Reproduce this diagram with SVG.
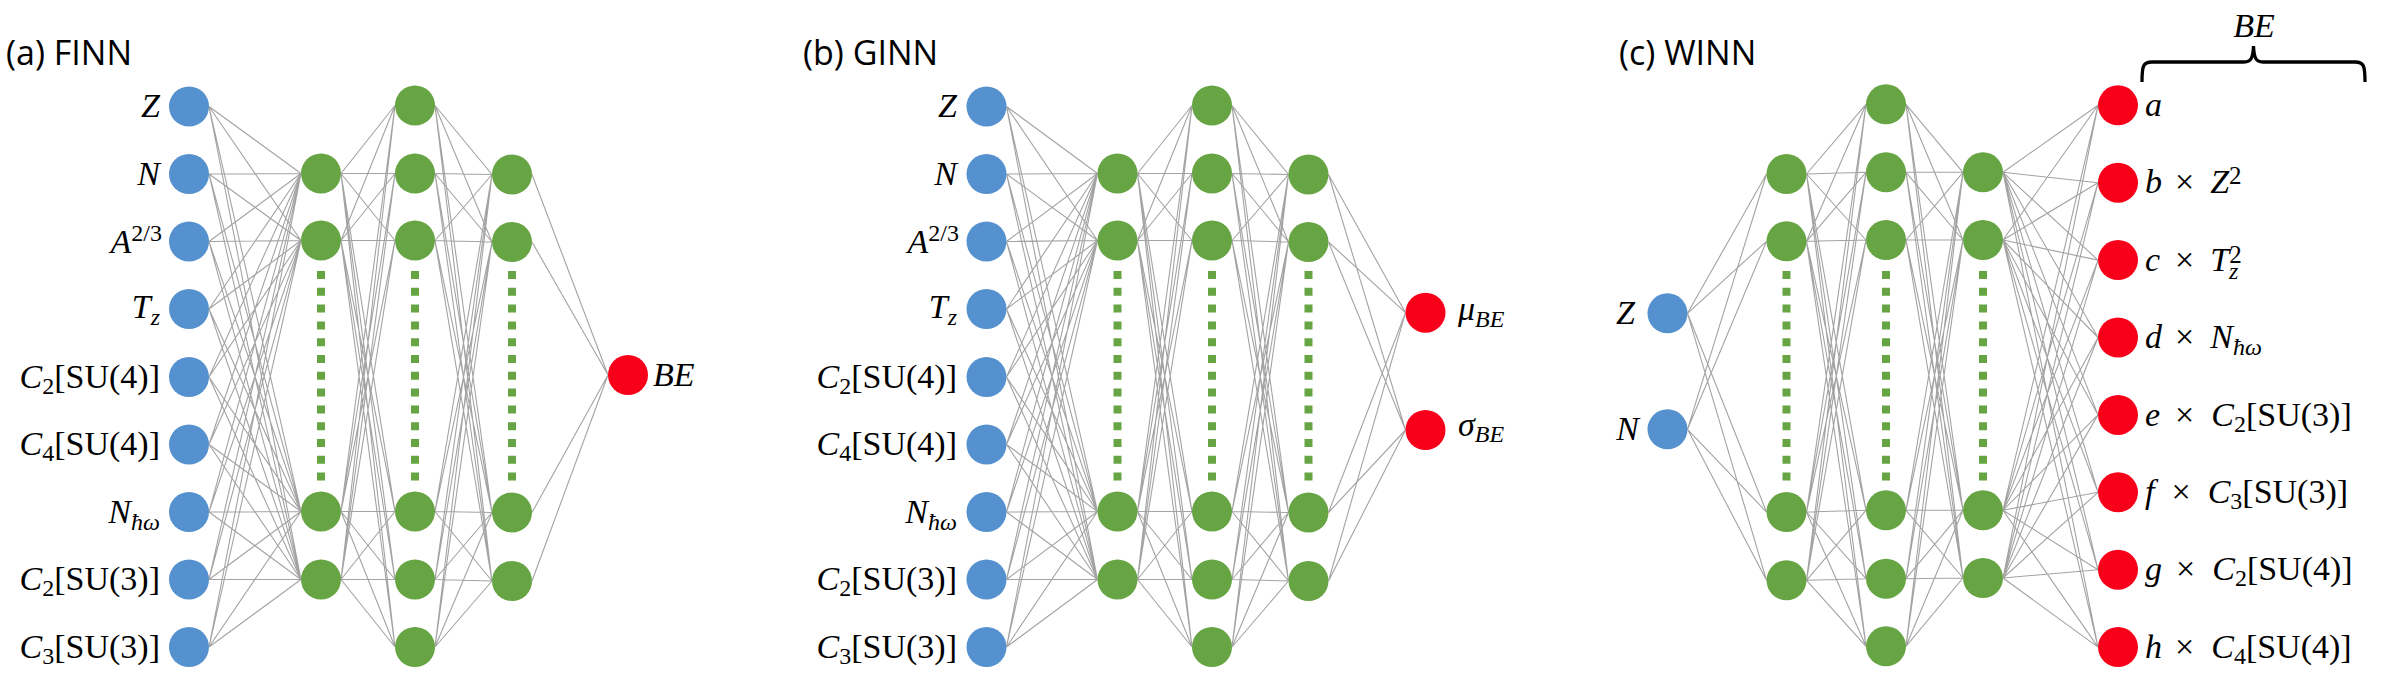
<svg xmlns="http://www.w3.org/2000/svg" width="2386" height="677" viewBox="0 0 2386 677">
<style>
.bg{fill:#fff}
.conn path{stroke:#A3A3A3;stroke-width:1.1;fill:none}
.in{fill:#5591CE}
.hid{fill:#67A443}
.out{fill:#F9001A}
.dots line{stroke:#67A443;stroke-width:8;stroke-dasharray:8 8.8}
.lbl{font-family:"Liberation Serif","DejaVu Serif",serif;font-size:34px;fill:#000}
.i{font-style:italic}
.s{font-size:24px}
.title{font-family:"Open Sans","Liberation Sans",sans-serif;font-size:34px;fill:#000}
.brace{stroke:#000;stroke-width:3.3;fill:none}
</style>
<rect class="bg" x="0" y="0" width="2386" height="677"/>

<!-- titles -->
<text class="title" x="6" y="65">(a) FINN</text>
<text class="title" x="803" y="65">(b) GINN</text>
<text class="title" x="1619" y="65">(c) WINN</text>

<!-- connectors -->
<g id="connectors" class="conn">
<!-- panel a: inputs -> h1 -->
<path d="M209 106.5L301 173.5M209 106.5L301 240.5M209 106.5L301 511.5M209 106.5L301 579.5
M209 174L301 173.5M209 174L301 240.5M209 174L301 511.5M209 174L301 579.5
M209 241.5L301 173.5M209 241.5L301 240.5M209 241.5L301 511.5M209 241.5L301 579.5
M209 309L301 173.5M209 309L301 240.5M209 309L301 511.5M209 309L301 579.5
M209 377L301 173.5M209 377L301 240.5M209 377L301 511.5M209 377L301 579.5
M209 444.5L301 173.5M209 444.5L301 240.5M209 444.5L301 511.5M209 444.5L301 579.5
M209 512L301 173.5M209 512L301 240.5M209 512L301 511.5M209 512L301 579.5
M209 579.5L301 173.5M209 579.5L301 240.5M209 579.5L301 511.5M209 579.5L301 579.5
M209 647L301 173.5M209 647L301 240.5M209 647L301 511.5M209 647L301 579.5"/>
<!-- panel a: h1 -> h2 -->
<path d="M341 173.5L395 105.5M341 173.5L395 173.5M341 173.5L395 240.5M341 173.5L395 511.5M341 173.5L395 579.5M341 173.5L395 647
M341 240.5L395 105.5M341 240.5L395 173.5M341 240.5L395 240.5M341 240.5L395 511.5M341 240.5L395 579.5M341 240.5L395 647
M341 511.5L395 105.5M341 511.5L395 173.5M341 511.5L395 240.5M341 511.5L395 511.5M341 511.5L395 579.5M341 511.5L395 647
M341 579.5L395 105.5M341 579.5L395 173.5M341 579.5L395 240.5M341 579.5L395 511.5M341 579.5L395 579.5M341 579.5L395 647"/>
<!-- panel a: h2 -> h3 -->
<path d="M435 105.5L492 174.5M435 105.5L492 242M435 105.5L492 512.5M435 105.5L492 581
M435 173.5L492 174.5M435 173.5L492 242M435 173.5L492 512.5M435 173.5L492 581
M435 240.5L492 174.5M435 240.5L492 242M435 240.5L492 512.5M435 240.5L492 581
M435 511.5L492 174.5M435 511.5L492 242M435 511.5L492 512.5M435 511.5L492 581
M435 579.5L492 174.5M435 579.5L492 242M435 579.5L492 512.5M435 579.5L492 581
M435 647L492 174.5M435 647L492 242M435 647L492 512.5M435 647L492 581"/>
<!-- panel a: h3 -> out -->
<path d="M532 174.5L608 375M532 242L608 375M532 512.5L608 375M532 581L608 375"/>

<!-- panel b: inputs -> h1 -->
<path d="M1006.5 106.5L1097.5 173.5M1006.5 106.5L1097.5 240.5M1006.5 106.5L1097.5 511.5M1006.5 106.5L1097.5 579.5
M1006.5 174L1097.5 173.5M1006.5 174L1097.5 240.5M1006.5 174L1097.5 511.5M1006.5 174L1097.5 579.5
M1006.5 241.5L1097.5 173.5M1006.5 241.5L1097.5 240.5M1006.5 241.5L1097.5 511.5M1006.5 241.5L1097.5 579.5
M1006.5 309L1097.5 173.5M1006.5 309L1097.5 240.5M1006.5 309L1097.5 511.5M1006.5 309L1097.5 579.5
M1006.5 377L1097.5 173.5M1006.5 377L1097.5 240.5M1006.5 377L1097.5 511.5M1006.5 377L1097.5 579.5
M1006.5 444.5L1097.5 173.5M1006.5 444.5L1097.5 240.5M1006.5 444.5L1097.5 511.5M1006.5 444.5L1097.5 579.5
M1006.5 512L1097.5 173.5M1006.5 512L1097.5 240.5M1006.5 512L1097.5 511.5M1006.5 512L1097.5 579.5
M1006.5 579.5L1097.5 173.5M1006.5 579.5L1097.5 240.5M1006.5 579.5L1097.5 511.5M1006.5 579.5L1097.5 579.5
M1006.5 647L1097.5 173.5M1006.5 647L1097.5 240.5M1006.5 647L1097.5 511.5M1006.5 647L1097.5 579.5"/>
<!-- panel b: h1 -> h2 -->
<path d="M1137.5 173.5L1192 105.5M1137.5 173.5L1192 173.5M1137.5 173.5L1192 240.5M1137.5 173.5L1192 511.5M1137.5 173.5L1192 579.5M1137.5 173.5L1192 647
M1137.5 240.5L1192 105.5M1137.5 240.5L1192 173.5M1137.5 240.5L1192 240.5M1137.5 240.5L1192 511.5M1137.5 240.5L1192 579.5M1137.5 240.5L1192 647
M1137.5 511.5L1192 105.5M1137.5 511.5L1192 173.5M1137.5 511.5L1192 240.5M1137.5 511.5L1192 511.5M1137.5 511.5L1192 579.5M1137.5 511.5L1192 647
M1137.5 579.5L1192 105.5M1137.5 579.5L1192 173.5M1137.5 579.5L1192 240.5M1137.5 579.5L1192 511.5M1137.5 579.5L1192 579.5M1137.5 579.5L1192 647"/>
<!-- panel b: h2 -> h3 -->
<path d="M1232 105.5L1288.5 174.5M1232 105.5L1288.5 242M1232 105.5L1288.5 512.5M1232 105.5L1288.5 581
M1232 173.5L1288.5 174.5M1232 173.5L1288.5 242M1232 173.5L1288.5 512.5M1232 173.5L1288.5 581
M1232 240.5L1288.5 174.5M1232 240.5L1288.5 242M1232 240.5L1288.5 512.5M1232 240.5L1288.5 581
M1232 511.5L1288.5 174.5M1232 511.5L1288.5 242M1232 511.5L1288.5 512.5M1232 511.5L1288.5 581
M1232 579.5L1288.5 174.5M1232 579.5L1288.5 242M1232 579.5L1288.5 512.5M1232 579.5L1288.5 581
M1232 647L1288.5 174.5M1232 647L1288.5 242M1232 647L1288.5 512.5M1232 647L1288.5 581"/>
<!-- panel b: h3 -> outputs -->
<path d="M1328.5 174.5L1405.5 312.7M1328.5 242L1405.5 312.7M1328.5 512.5L1405.5 312.7M1328.5 581L1405.5 312.7
M1328.5 174.5L1405.5 430M1328.5 242L1405.5 430M1328.5 512.5L1405.5 430M1328.5 581L1405.5 430"/>

<!-- panel c: inputs -> h1 -->
<path d="M1687.5 313.3L1766.5 174M1687.5 313.3L1766.5 241.3M1687.5 313.3L1766.5 512M1687.5 313.3L1766.5 580.3
M1687.5 429.3L1766.5 174M1687.5 429.3L1766.5 241.3M1687.5 429.3L1766.5 512M1687.5 429.3L1766.5 580.3"/>
<!-- panel c: h1 -> h2 -->
<path d="M1806.5 174L1866 104.3M1806.5 174L1866 172.3M1806.5 174L1866 240M1806.5 174L1866 510.3M1806.5 174L1866 578.7M1806.5 174L1866 646.3
M1806.5 241.3L1866 104.3M1806.5 241.3L1866 172.3M1806.5 241.3L1866 240M1806.5 241.3L1866 510.3M1806.5 241.3L1866 578.7M1806.5 241.3L1866 646.3
M1806.5 512L1866 104.3M1806.5 512L1866 172.3M1806.5 512L1866 240M1806.5 512L1866 510.3M1806.5 512L1866 578.7M1806.5 512L1866 646.3
M1806.5 580.3L1866 104.3M1806.5 580.3L1866 172.3M1806.5 580.3L1866 240M1806.5 580.3L1866 510.3M1806.5 580.3L1866 578.7M1806.5 580.3L1866 646.3"/>
<!-- panel c: h2 -> h3 -->
<path d="M1906 104.3L1963 172.3M1906 104.3L1963 240M1906 104.3L1963 510.3M1906 104.3L1963 578
M1906 172.3L1963 172.3M1906 172.3L1963 240M1906 172.3L1963 510.3M1906 172.3L1963 578
M1906 240L1963 172.3M1906 240L1963 240M1906 240L1963 510.3M1906 240L1963 578
M1906 510.3L1963 172.3M1906 510.3L1963 240M1906 510.3L1963 510.3M1906 510.3L1963 578
M1906 578.7L1963 172.3M1906 578.7L1963 240M1906 578.7L1963 510.3M1906 578.7L1963 578
M1906 646.3L1963 172.3M1906 646.3L1963 240M1906 646.3L1963 510.3M1906 646.3L1963 578"/>
<!-- panel c: h3 -> outputs -->
<path d="M2003 172.3L2098 105.3M2003 172.3L2098 182.7M2003 172.3L2098 260.1M2003 172.3L2098 337.5M2003 172.3L2098 414.9M2003 172.3L2098 492.3M2003 172.3L2098 569.7M2003 172.3L2098 647.1
M2003 240L2098 105.3M2003 240L2098 182.7M2003 240L2098 260.1M2003 240L2098 337.5M2003 240L2098 414.9M2003 240L2098 492.3M2003 240L2098 569.7M2003 240L2098 647.1
M2003 510.3L2098 105.3M2003 510.3L2098 182.7M2003 510.3L2098 260.1M2003 510.3L2098 337.5M2003 510.3L2098 414.9M2003 510.3L2098 492.3M2003 510.3L2098 569.7M2003 510.3L2098 647.1
M2003 578L2098 105.3M2003 578L2098 182.7M2003 578L2098 260.1M2003 578L2098 337.5M2003 578L2098 414.9M2003 578L2098 492.3M2003 578L2098 569.7M2003 578L2098 647.1"/>
</g>

<!-- ellipsis dots -->
<g id="ellipses" class="dots">
<line x1="321" y1="271" x2="321" y2="481"/>
<line x1="415" y1="271" x2="415" y2="481"/>
<line x1="512" y1="271" x2="512" y2="481"/>
<line x1="1117.5" y1="271" x2="1117.5" y2="481"/>
<line x1="1212" y1="271" x2="1212" y2="481"/>
<line x1="1308.5" y1="271" x2="1308.5" y2="481"/>
<line x1="1786.5" y1="271" x2="1786.5" y2="481"/>
<line x1="1886" y1="271" x2="1886" y2="481"/>
<line x1="1983" y1="271" x2="1983" y2="481"/>
</g>

<!-- ===== Panel (a) nodes ===== -->
<g id="a-in-Z"><circle class="in" cx="189" cy="106.5" r="20"/><text class="lbl i" x="160" y="117" text-anchor="end">Z</text></g>
<g id="a-in-N"><circle class="in" cx="189" cy="174" r="20"/><text class="lbl i" x="160" y="184.5" text-anchor="end">N</text></g>
<g id="a-in-A"><circle class="in" cx="189" cy="241.5" r="20"/><text class="lbl" x="162" y="252.5" text-anchor="end"><tspan class="i">A</tspan><tspan font-size="24" dy="-12">2/3</tspan></text></g>
<g id="a-in-Tz"><circle class="in" cx="189" cy="309" r="20"/><text class="lbl" x="160" y="318" text-anchor="end"><tspan class="i">T</tspan><tspan class="i s" dy="7">z</tspan></text></g>
<g id="a-in-C2SU4"><circle class="in" cx="189" cy="377" r="20"/><text class="lbl" x="160" y="387.5" text-anchor="end"><tspan class="i">C</tspan><tspan class="s" dy="6">2</tspan><tspan dy="-6">[SU(4)]</tspan></text></g>
<g id="a-in-C4SU4"><circle class="in" cx="189" cy="444.5" r="20"/><text class="lbl" x="160" y="455" text-anchor="end"><tspan class="i">C</tspan><tspan class="s" dy="6">4</tspan><tspan dy="-6">[SU(4)]</tspan></text></g>
<g id="a-in-Nhw"><circle class="in" cx="189" cy="512" r="20"/><text class="lbl" x="160" y="522.5" text-anchor="end"><tspan class="i">N</tspan><tspan class="i s" dy="7">ħω</tspan></text></g>
<g id="a-in-C2SU3"><circle class="in" cx="189" cy="579.5" r="20"/><text class="lbl" x="160" y="590" text-anchor="end"><tspan class="i">C</tspan><tspan class="s" dy="6">2</tspan><tspan dy="-6">[SU(3)]</tspan></text></g>
<g id="a-in-C3SU3"><circle class="in" cx="189" cy="647" r="20"/><text class="lbl" x="160" y="657.5" text-anchor="end"><tspan class="i">C</tspan><tspan class="s" dy="6">3</tspan><tspan dy="-6">[SU(3)]</tspan></text></g>
<g id="a-h1-1"><circle class="hid" cx="321" cy="173.5" r="20"/></g>
<g id="a-h1-2"><circle class="hid" cx="321" cy="240.5" r="20"/></g>
<g id="a-h1-3"><circle class="hid" cx="321" cy="511.5" r="20"/></g>
<g id="a-h1-4"><circle class="hid" cx="321" cy="579.5" r="20"/></g>
<g id="a-h2-1"><circle class="hid" cx="415" cy="105.5" r="20"/></g>
<g id="a-h2-2"><circle class="hid" cx="415" cy="173.5" r="20"/></g>
<g id="a-h2-3"><circle class="hid" cx="415" cy="240.5" r="20"/></g>
<g id="a-h2-4"><circle class="hid" cx="415" cy="511.5" r="20"/></g>
<g id="a-h2-5"><circle class="hid" cx="415" cy="579.5" r="20"/></g>
<g id="a-h2-6"><circle class="hid" cx="415" cy="647" r="20"/></g>
<g id="a-h3-1"><circle class="hid" cx="512" cy="174.5" r="20"/></g>
<g id="a-h3-2"><circle class="hid" cx="512" cy="242" r="20"/></g>
<g id="a-h3-3"><circle class="hid" cx="512" cy="512.5" r="20"/></g>
<g id="a-h3-4"><circle class="hid" cx="512" cy="581" r="20"/></g>
<g id="a-out-BE"><circle class="out" cx="628" cy="375" r="20"/><text class="lbl i" x="653" y="385.5">BE</text></g>

<!-- ===== Panel (b) nodes ===== -->
<g id="b-in-Z"><circle class="in" cx="986.5" cy="106.5" r="20"/><text class="lbl i" x="957" y="117" text-anchor="end">Z</text></g>
<g id="b-in-N"><circle class="in" cx="986.5" cy="174" r="20"/><text class="lbl i" x="957" y="184.5" text-anchor="end">N</text></g>
<g id="b-in-A"><circle class="in" cx="986.5" cy="241.5" r="20"/><text class="lbl" x="959" y="252.5" text-anchor="end"><tspan class="i">A</tspan><tspan font-size="24" dy="-12">2/3</tspan></text></g>
<g id="b-in-Tz"><circle class="in" cx="986.5" cy="309" r="20"/><text class="lbl" x="957" y="318" text-anchor="end"><tspan class="i">T</tspan><tspan class="i s" dy="7">z</tspan></text></g>
<g id="b-in-C2SU4"><circle class="in" cx="986.5" cy="377" r="20"/><text class="lbl" x="957" y="387.5" text-anchor="end"><tspan class="i">C</tspan><tspan class="s" dy="6">2</tspan><tspan dy="-6">[SU(4)]</tspan></text></g>
<g id="b-in-C4SU4"><circle class="in" cx="986.5" cy="444.5" r="20"/><text class="lbl" x="957" y="455" text-anchor="end"><tspan class="i">C</tspan><tspan class="s" dy="6">4</tspan><tspan dy="-6">[SU(4)]</tspan></text></g>
<g id="b-in-Nhw"><circle class="in" cx="986.5" cy="512" r="20"/><text class="lbl" x="957" y="522.5" text-anchor="end"><tspan class="i">N</tspan><tspan class="i s" dy="7">ħω</tspan></text></g>
<g id="b-in-C2SU3"><circle class="in" cx="986.5" cy="579.5" r="20"/><text class="lbl" x="957" y="590" text-anchor="end"><tspan class="i">C</tspan><tspan class="s" dy="6">2</tspan><tspan dy="-6">[SU(3)]</tspan></text></g>
<g id="b-in-C3SU3"><circle class="in" cx="986.5" cy="647" r="20"/><text class="lbl" x="957" y="657.5" text-anchor="end"><tspan class="i">C</tspan><tspan class="s" dy="6">3</tspan><tspan dy="-6">[SU(3)]</tspan></text></g>
<g id="b-h1-1"><circle class="hid" cx="1117.5" cy="173.5" r="20"/></g>
<g id="b-h1-2"><circle class="hid" cx="1117.5" cy="240.5" r="20"/></g>
<g id="b-h1-3"><circle class="hid" cx="1117.5" cy="511.5" r="20"/></g>
<g id="b-h1-4"><circle class="hid" cx="1117.5" cy="579.5" r="20"/></g>
<g id="b-h2-1"><circle class="hid" cx="1212" cy="105.5" r="20"/></g>
<g id="b-h2-2"><circle class="hid" cx="1212" cy="173.5" r="20"/></g>
<g id="b-h2-3"><circle class="hid" cx="1212" cy="240.5" r="20"/></g>
<g id="b-h2-4"><circle class="hid" cx="1212" cy="511.5" r="20"/></g>
<g id="b-h2-5"><circle class="hid" cx="1212" cy="579.5" r="20"/></g>
<g id="b-h2-6"><circle class="hid" cx="1212" cy="647" r="20"/></g>
<g id="b-h3-1"><circle class="hid" cx="1308.5" cy="174.5" r="20"/></g>
<g id="b-h3-2"><circle class="hid" cx="1308.5" cy="242" r="20"/></g>
<g id="b-h3-3"><circle class="hid" cx="1308.5" cy="512.5" r="20"/></g>
<g id="b-h3-4"><circle class="hid" cx="1308.5" cy="581" r="20"/></g>
<g id="b-out-mu"><circle class="out" cx="1425.5" cy="312.7" r="20"/><text class="lbl" x="1458" y="320" font-size="37"><tspan class="i">μ</tspan><tspan class="i s" dy="7">BE</tspan></text></g>
<g id="b-out-sigma"><circle class="out" cx="1425.5" cy="430" r="20"/><text class="lbl" x="1458" y="436" font-size="37"><tspan class="i">σ</tspan><tspan class="i s" dy="6">BE</tspan></text></g>

<!-- ===== Panel (c) nodes ===== -->
<g id="c-in-Z"><circle class="in" cx="1667.5" cy="313.3" r="20"/><text class="lbl i" x="1635" y="324" text-anchor="end">Z</text></g>
<g id="c-in-N"><circle class="in" cx="1667.5" cy="429.3" r="20"/><text class="lbl i" x="1639" y="440" text-anchor="end">N</text></g>
<g id="c-h1-1"><circle class="hid" cx="1786.5" cy="174" r="20"/></g>
<g id="c-h1-2"><circle class="hid" cx="1786.5" cy="241.3" r="20"/></g>
<g id="c-h1-3"><circle class="hid" cx="1786.5" cy="512" r="20"/></g>
<g id="c-h1-4"><circle class="hid" cx="1786.5" cy="580.3" r="20"/></g>
<g id="c-h2-1"><circle class="hid" cx="1886" cy="104.3" r="20"/></g>
<g id="c-h2-2"><circle class="hid" cx="1886" cy="172.3" r="20"/></g>
<g id="c-h2-3"><circle class="hid" cx="1886" cy="240" r="20"/></g>
<g id="c-h2-4"><circle class="hid" cx="1886" cy="510.3" r="20"/></g>
<g id="c-h2-5"><circle class="hid" cx="1886" cy="578.7" r="20"/></g>
<g id="c-h2-6"><circle class="hid" cx="1886" cy="646.3" r="20"/></g>
<g id="c-h3-1"><circle class="hid" cx="1983" cy="172.3" r="20"/></g>
<g id="c-h3-2"><circle class="hid" cx="1983" cy="240" r="20"/></g>
<g id="c-h3-3"><circle class="hid" cx="1983" cy="510.3" r="20"/></g>
<g id="c-h3-4"><circle class="hid" cx="1983" cy="578" r="20"/></g>
<g id="c-out-a"><circle class="out" cx="2118" cy="105.3" r="20"/><text class="lbl i" x="2145" y="115.5">a</text></g>
<g id="c-out-b"><circle class="out" cx="2118" cy="182.7" r="20"/><text class="lbl" x="2145" y="193"><tspan class="i">b</tspan><tspan dx="13">×</tspan><tspan class="i" dx="16">Z</tspan><tspan font-size="25" dy="-9">2</tspan></text></g>
<g id="c-out-c"><circle class="out" cx="2118" cy="260.1" r="20"/><text class="lbl" x="2145" y="270.5"><tspan class="i">c</tspan><tspan dx="15">×</tspan><tspan class="i" dx="16">T</tspan><tspan font-size="25" dy="-8">2</tspan></text><text class="lbl i s" x="2229" y="279">z</text></g>
<g id="c-out-d"><circle class="out" cx="2118" cy="337.5" r="20"/><text class="lbl" x="2145" y="348"><tspan class="i">d</tspan><tspan dx="13">×</tspan><tspan class="i" dx="16">N</tspan><tspan class="i s" dy="7">ħω</tspan></text></g>
<g id="c-out-e"><circle class="out" cx="2118" cy="414.9" r="20"/><text class="lbl" x="2145" y="425.5"><tspan class="i">e</tspan><tspan dx="15">×</tspan><tspan class="i" dx="17">C</tspan><tspan class="s" dy="6">2</tspan><tspan dy="-6">[SU(3)]</tspan></text></g>
<g id="c-out-f"><circle class="out" cx="2118" cy="492.3" r="20"/><text class="lbl" x="2145" y="503"><tspan class="i">f</tspan><tspan dx="17">×</tspan><tspan class="i" dx="17">C</tspan><tspan class="s" dy="6">3</tspan><tspan dy="-6">[SU(3)]</tspan></text></g>
<g id="c-out-g"><circle class="out" cx="2118" cy="569.7" r="20"/><text class="lbl" x="2145" y="580"><tspan class="i">g</tspan><tspan dx="14">×</tspan><tspan class="i" dx="17">C</tspan><tspan class="s" dy="6">2</tspan><tspan dy="-6">[SU(4)]</tspan></text></g>
<g id="c-out-h"><circle class="out" cx="2118" cy="647.1" r="20"/><text class="lbl" x="2145" y="657.5"><tspan class="i">h</tspan><tspan dx="13">×</tspan><tspan class="i" dx="17">C</tspan><tspan class="s" dy="6">4</tspan><tspan dy="-6">[SU(4)]</tspan></text></g>

<!-- brace -->
<g id="c-brace">
<path class="brace" d="M2142 82C2142 66 2143 62 2152 62H2244C2251 62 2253 58 2253.5 46C2254 58 2256 62 2263 62H2355C2364 62 2365 66 2365 82"/>
<text class="lbl i" x="2254" y="36.5" text-anchor="middle" font-size="32">BE</text>
</g>
</svg>
